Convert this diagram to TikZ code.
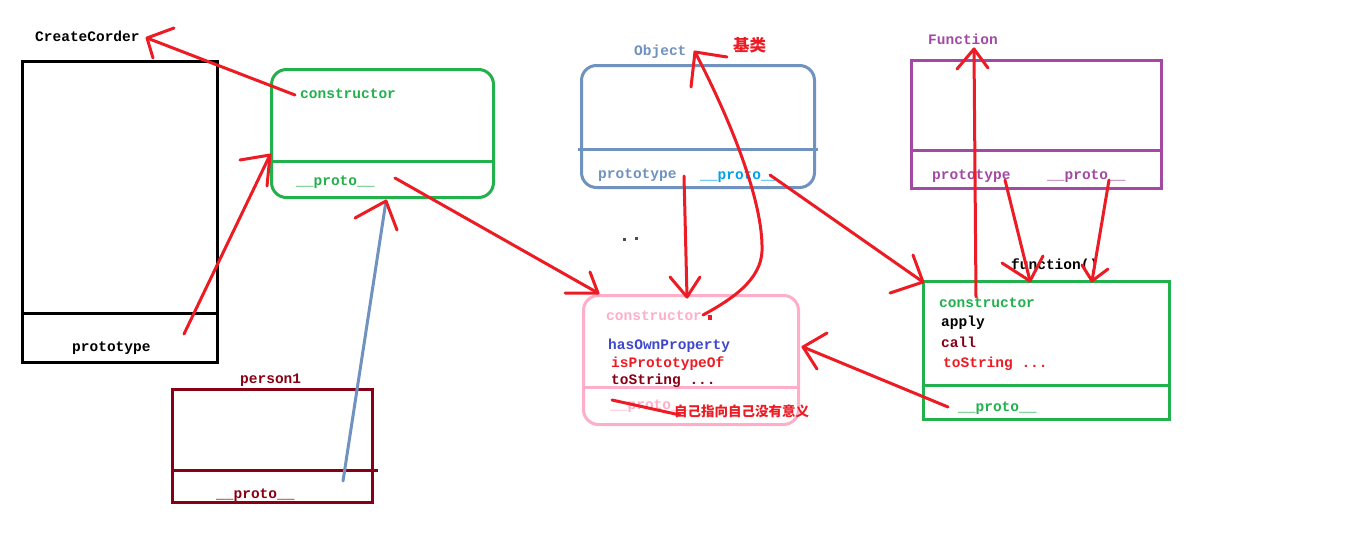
\documentclass[tikz,border=0pt]{standalone}
\usepackage{fontspec}
\setmonofont{Liberation Mono}
\newfontfamily\cjk{Noto Sans CJK SC}
\usetikzlibrary{calc}
\definecolor{pred}{HTML}{ED1C24}
\definecolor{pgreen}{HTML}{22B14C}
\definecolor{pblue}{HTML}{7092BE}
\definecolor{ppurple}{HTML}{A349A4}
\definecolor{ppink}{HTML}{FFAEC9}
\definecolor{pdark}{HTML}{880015}
\definecolor{pindigo}{HTML}{3F48CC}
\definecolor{plight}{HTML}{00A2E8}
\begin{document}
\begin{tikzpicture}[x=1pt,y=-1pt,
  box/.style={draw, line width=3pt, inner sep=0pt},
  lbl/.style={anchor=base west, inner sep=0pt, font=\ttfamily\bfseries\fontsize{14.5}{16}\selectfont},
  cjklbl/.style={anchor=west, inner sep=0pt, text=pred},
  redln/.style={draw=pred, line width=3pt, line cap=round, line join=round},
  blueln/.style={draw=pblue, line width=3pt, line cap=round}]
\fill[white] (0,0) rectangle (1353,538);
\useasboundingbox (0,0) rectangle (1353,538);

% boxes
\node[box, draw=black, minimum width=195pt, minimum height=301pt] (cc) at (120,212) {};
\draw[line width=3pt] (cc.west |- 0,313) -- (cc.east |- 0,313);
\node[box, draw=pgreen, rounded corners=15pt, minimum width=222pt, minimum height=128pt] (g1) at (382.5,133.5) {};
\draw[line width=3pt, pgreen] (g1.west |- 0,161) -- (g1.east |- 0,161);
\node[box, draw=pblue, rounded corners=15pt, minimum width=233pt, minimum height=122pt] (ob) at (698,126.5) {};
\draw[line width=3pt, pblue] (578,149) -- (818,149);
\node[box, draw=ppurple, minimum width=250pt, minimum height=128pt] (fn) at (1036.5,124.5) {};
\draw[line width=3pt, ppurple] (fn.west |- 0,150) -- (fn.east |- 0,150);
\node[box, draw=ppink, rounded corners=15pt, minimum width=215pt, minimum height=129pt] (pk) at (691,360) {};
\draw[line width=3pt, ppink] (pk.west |- 0,387) -- (pk.east |- 0,387);
\node[box, draw=pgreen, minimum width=246pt, minimum height=138pt] (g2) at (1046.5,350.5) {};
\draw[line width=3pt, pgreen] (g2.west |- 0,385) -- (1168,385);
\node[box, draw=pdark, minimum width=200pt, minimum height=113pt] (p1) at (272.5,446) {};
\draw[line width=3pt, pdark] (p1.west |- 0,470) -- (378,470);

% texts
\node[lbl] (tcc) at (35,41) {CreateCorder};
\node[lbl, text=pgreen] (g1con) at (300,98) {constructor};
\node[lbl, text=pgreen] (g1pro) at (296,185) {\_\_proto\_\_};
\node[lbl] (ccpro) at (72,351) {prototype};
\node[lbl, text=pblue] (tob) at (634,55) {Object};
\node[lbl, text=pblue] (obpt) at (598,178) {prototype};
\node[lbl, text=plight] (obpr) at (700,179) {\_\_proto\_\_};
\node[lbl, text=ppurple] (tfn) at (928,44) {Function};
\node[lbl, text=ppurple] (fnpt) at (932,179) {prototype};
\node[lbl, text=ppurple] (fnpr) at (1047,179) {\_\_proto\_\_};
\node[lbl] (tfun) at (1011,269) {function()};
\node[lbl, text=pgreen] (g2con) at (939,307) {constructor};
\node[lbl] (g2ap) at (941,326) {apply};
\node[lbl, text=pdark] (g2ca) at (941,347) {call};
\node[lbl, text=pred] (g2ts) at (943,367) {toString ...};
\node[lbl, text=pgreen] (g2pr) at (958,411) {\_\_proto\_\_};
\node[lbl, text=ppink] (pkcon) at (606,320) {constructor};
\node[lbl, text=pindigo] (pkhas) at (608,349) {hasOwnProperty};
\node[lbl, text=pred] (pkis) at (611,367) {isPrototypeOf};
\node[lbl, text=pdark] (pkts) at (611,384) {toString ...};
\node[lbl, text=ppink] (pkpr) at (610,409) {\_\_proto\_\_};
\node[lbl, text=pdark] (tp1) at (240,383) {person1};
\node[lbl, text=pdark] (p1pr) at (216,498) {\_\_proto\_\_};
\node[cjklbl, font=\cjk\bfseries\fontsize{16.5}{18}\selectfont] (jilei) at (733,45) {基类};
\node[cjklbl, font=\cjk\bfseries\fontsize{13.5}{15}\selectfont] (note) at (674,411) {自己指向自己没有意义};

% dots
\fill[black!70] (623,238) rectangle (625.5,240.5);
\fill[black!70] (635,237) rectangle (637.5,239.5);
\fill[pred] (708,315) rectangle (712,320);

% coordinates
\coordinate (a1s) at (295,95);  \coordinate (a1t) at (147,38);
\coordinate (a1b) at (174,28);  \coordinate (a1c) at (153,58);
\coordinate (a2s) at (184,334); \coordinate (a2t) at (270,155);
\coordinate (a2b) at (240,160); \coordinate (a2c) at (267,186);
\coordinate (a3s) at (395,178); \coordinate (a3t) at (598,293);
\coordinate (a3b) at (590,272); \coordinate (a3c) at (565,293);
\coordinate (a4s) at (343,481); \coordinate (a4t) at (386,201);
\coordinate (a4b) at (355,218); \coordinate (a4c) at (397,230);
\coordinate (a5s) at (684,176); \coordinate (a5t) at (687,297);
\coordinate (a5b) at (670,277); \coordinate (a5c) at (700,277);
\coordinate (a6s) at (703,315); \coordinate (a6m) at (762,245); \coordinate (a6t) at (695,52);
\coordinate (a6b) at (691,87);  \coordinate (a6c) at (727,57);
\coordinate (a7s) at (770,175); \coordinate (a7t) at (923,282);
\coordinate (a7b) at (913,255); \coordinate (a7c) at (890,293);
\coordinate (a8s) at (976,297); \coordinate (a8t) at (974,49);
\coordinate (a8b) at (957,69);  \coordinate (a8c) at (988,68);
\coordinate (a9s) at (1005,180); \coordinate (a9t) at (1030,281);
\coordinate (a9b) at (1002,263); \coordinate (a9c) at (1043,256);
\coordinate (a10s) at (1109,180); \coordinate (a10t) at (1092,281);
\coordinate (a10b) at (1082,265); \coordinate (a10c) at (1108,269);
\coordinate (a11s) at (948,407); \coordinate (a11t) at (803,347);
\coordinate (a11b) at (827,333); \coordinate (a11c) at (817,369);
\coordinate (sks) at (612,400); \coordinate (ske) at (680,415);

% connectors
\draw[blueln] (a4s) -- (a4t);
\draw[redln] (a1s) -- (a1t); \draw[redln] (a1b) -- (a1t) -- (a1c);
\draw[redln] (a2s) -- (a2t); \draw[redln] (a2b) -- (a2t) -- (a2c);
\draw[redln] (a3s) -- (a3t); \draw[redln] (a3b) -- (a3t) -- (a3c);
\draw[redln] (a4b) -- (a4t) -- (a4c);
\draw[redln] (a5s) -- (a5t); \draw[redln] (a5b) -- (a5t) -- (a5c);
\draw[redln] (a6s) .. controls (740,295) and (764,275) .. (a6m) .. controls (761,195) and (728,115) .. (a6t);
\draw[redln] (a6b) -- (a6t) -- (a6c);
\draw[redln] (a7s) -- (a7t); \draw[redln] (a7b) -- (a7t) -- (a7c);
\draw[redln] (a8s) -- (a8t); \draw[redln] (a8b) -- (a8t) -- (a8c);
\draw[redln] (a9s) -- (a9t); \draw[redln] (a9b) -- (a9t) -- (a9c);
\draw[redln] (a10s) -- (a10t); \draw[redln] (a10b) -- (a10t) -- (a10c);
\draw[redln] (a11s) -- (a11t); \draw[redln] (a11b) -- (a11t) -- (a11c);
\draw[redln] (sks) -- (ske);
\end{tikzpicture}
\end{document}
